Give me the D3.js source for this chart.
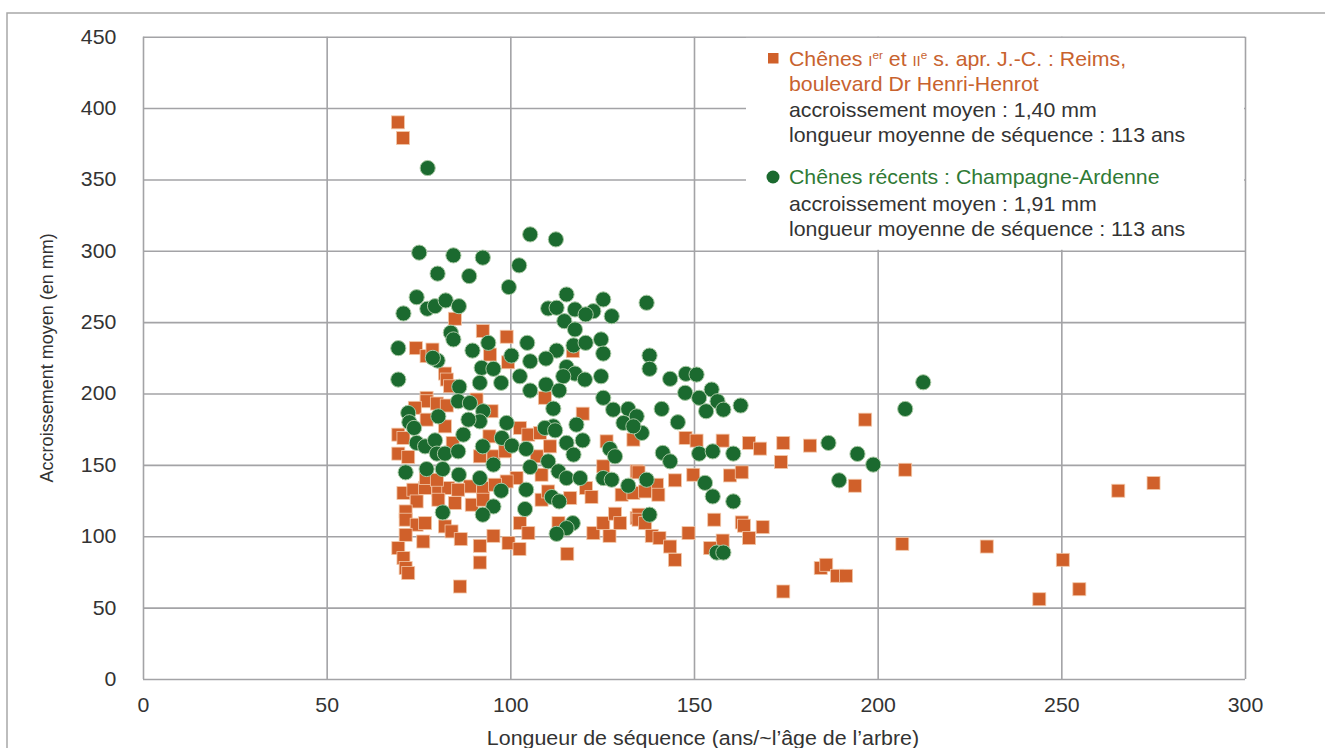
<!DOCTYPE html>
<html lang="fr">
<head>
<meta charset="utf-8">
<script src="https://cdn.jsdelivr.net/npm/d3@7"></script>
<style>
  html, body { margin: 0; padding: 0; background: #fff; }
  svg { display: block; font-family: "Liberation Sans", Arial, sans-serif; }
</style>
</head>
<body>
<svg id="chart" width="1325" height="748"></svg>
<script>
// ---------- data ----------
const xTicks = [0, 50, 100, 150, 200, 250, 300];
const yTicks = [0, 50, 100, 150, 200, 250, 300, 350, 400, 450];

// Chênes Ier et IIe s. apr. J.-C. (Reims) — squares
const romanLength = [69.4,70.8,84.9,74.3,77.2,78.8,82.2,82.7,83.6,77.2,
  77.2,80,82.7,74,77.2,82.2,69.5,70.9,84.3,69.5,72.2,70.9,73.6,76.8,80.4,83.1,77,80,74.5,80.4,84.9,71.5,71.5,74.5,76.8,82.2,84,71.5,76.3,69.5,70.9,71.5,72.2,86.3,
  92.5,99,94.5,99.4,117,109.4,119.7,94.9,90.8,102.6,
  104.9,94.3,108.1,110.8,95.4,98.6,91.7,107.2,101.7,108.5,99,89,92.6,95.8,85.8,89.5,92.6,108.5,110.3,116.3,120.6,122.1,130.3,133.5,125.3,134.4,133.5,126.2,102.6,104.9,95.4,86.5,91.7,91.7,99.5,102.5,115.5,122.6,127,125.3,128.5,129.9,134.4,113.1,
  147.7,150.7,157.8,165,168,174.3,173.7,134.9,144.8,149.8,159.8,163,139.9,140.3,136.7,134.9,134.9,136.7,138.5,140.6,143.5,144.8,148.5,155.5,163,163.6,168.7,157.8,154.4,165,174.3,
  196.6,181.6,207.5,193.8,265.5,275.1,206.7,229.7,250.4,254.9,244,184.5,186,188.9,191.4];
const romanGrowth = [390,379,252.4,231.8,226.2,230.8,214,209.8,205.1,197,
  194.6,193,191.6,190,181.7,177,171.2,168.9,165.4,157.9,155.6,130.3,132.6,133.8,132.6,133.8,140.8,139.6,124.4,125.6,123.3,117.4,111.6,108.1,109.2,106.9,103.4,101,96.3,91.7,84.7,77.7,74.2,64.8,
  243.8,239.8,227.3,221.9,229.7,197,185.9,187.6,195.8,175.9,
  171.2,170,172.4,163,156,159.5,156,156,140.8,143.1,138.4,134.9,133.8,136.1,132.6,122.1,125.6,125.6,131.4,126.8,133.8,127.5,129.1,130.3,149,145.5,167.7,166.5,109.2,102.2,100.3,98,93.3,81.6,95.2,91,87.7,102.2,100.3,109.2,115.8,109.2,112.8,109.2,
  168.9,167,167,165.4,161.4,165.4,152,144.8,139.2,143.1,142.6,144.8,136.1,129.1,131.4,115.1,111.6,109.2,100.3,98.7,92.8,83.5,102.2,111.6,109.7,107.4,106.4,97,91.7,98.7,61.3,
  181.7,163.5,146.6,135.4,131.9,137.3,94.7,92.8,83.5,62.9,55.9,77.7,80,72.3,72.3];

// Chênes récents (Champagne-Ardenne) — circles
const recentLength = [77.5,75.2,84.5,80.2,74.5,77.4,79.5,82.4,86,70.9,83.8,84.5,69.5,80.2,78.9,69.5,86.1,
  72.2,72.5,73.8,80.4,85.8,74.5,76.8,79.5,80,82.2,85.8,71.5,77.2,81.6,86,81.6,
  105.4,112.4,92.5,102.4,88.8,99.6,115.3,125.3,110.3,112.6,117.6,122.6,120.5,127.6,114.7,117.6,94,89.7,104.6,100.3,112.6,117.2,120.5,124.7,125.3,105.4,109.7,92.2,95.4,115.3,117.6,120.3,124.7,114.4,102.6,97.5,91.7,109.7,105.4,113.3,125.3,89,92.6,111.7,128,132.1,91.7,99,111.7,118,130.8,134.4,
  88.6,87.2,97.7,100.4,104.3,92.5,109.4,112.2,115.3,119.7,110.3,117.2,127.1,128.5,95.4,105.4,113.1,115.3,119,91.7,125.3,132.1,127.6,104.3,97.5,111.3,113.3,104,95.4,92.5,117,115.3,112.6,
  137.1,137.9,137.9,143.5,147.8,150.7,147.6,151.4,154.8,156.4,158,153.3,162.7,141.2,135.8,133.5,145.6,141.5,143.5,151.4,155.1,160.7,137.1,153,155.1,160.7,137.9,156.2,158,
  212.4,207.5,186.6,194.5,198.8,189.5];
const recentGrowth = [358,298.7,296.8,284,267.5,259.4,261.2,265.2,261.2,256.1,242.6,237.9,231.8,223.1,225,209.8,204.7,
  186.4,179.9,175.9,184,194.6,165.4,163,167.2,157.9,157.9,159.5,144.8,147.1,147.1,143.1,116.7,
  311.5,308,295.2,289.8,282.3,274.6,269.4,265.9,259.6,260.1,258.9,257.7,255.4,254.2,250.7,244.9,235.5,230.1,235.5,226.6,230.1,233.7,235.5,237.9,228,222.6,224.5,218,217.3,218.6,214,209.8,212.1,212.1,212.1,207.5,207.5,206.3,202.1,202.1,197,193.4,187.6,189.4,188.7,189.2,180.5,179.4,177,178.2,179.4,184,
  181.7,171.2,168.9,163.5,161.2,163,175.9,174.2,165.4,167.2,152.5,157.2,161.2,156,150.2,148.5,145.5,140.8,140.8,140.8,140.8,135.4,139.6,132.6,131.9,127.5,124.4,119.1,120.9,115.1,109.2,105.7,101.7,
  263.6,226.6,217.3,210.3,213.8,213.3,200.5,197,202.8,194.6,188.7,187.6,191.6,189.2,172.4,177,179.9,158.4,152.5,157.9,159.5,157.9,139.6,137.4,127.9,124.4,115.1,88.6,88.6,
  207.9,189.2,165.4,157.7,150.2,139.2];

const legendRoman = ["accroissement moyen : 1,40 mm", "longueur moyenne de séquence : 113 ans"];
const legendRecent = ["accroissement moyen : 1,91 mm", "longueur moyenne de séquence : 113 ans"];

// ---------- layout ----------
const colSquare = "#d0602a", colCircle = "#1b6a2f";
const textCol = "#333333", gridCol = "#a3a3a6";
const plotL = 143, plotR = 1245, plotT = 36.7, plotB = 679;
const stretch = 1.065; // reference text is slightly wider than tall

const svg = d3.select("#chart");
const x = d3.scaleLinear().domain([0, 300]).range([plotL, plotR]);
const y = d3.scaleLinear().domain([0, 450]).range([plotB, plotT]);

// outer frame
svg.append("path").attr("d", `M7,748 L7,13 L1325,13`)
  .attr("fill", "none").attr("stroke", "#a8a8a8").attr("stroke-width", 1.5);

// y grid + labels
const gy = svg.append("g").attr("transform", `translate(${plotL},0)`)
  .call(d3.axisLeft(y).tickValues(yTicks).tickSize(-(plotR - plotL)).tickPadding(25));
// x grid + labels
const gx = svg.append("g").attr("transform", `translate(0,${plotB})`)
  .call(d3.axisBottom(x).tickValues(xTicks).tickSize(-(plotB - plotT)).tickPadding(19));
[gx, gy].forEach(g => {
  g.select(".domain").remove();
  g.selectAll(".tick line").attr("stroke", gridCol).attr("stroke-width", 1.6);
  g.selectAll(".tick text").attr("fill", textCol).style("font-size", "20px")
    .style("font-family", '"Liberation Sans", Arial, sans-serif')
    .attr("transform", `scale(${stretch},1)`);
});

// legend background covers grid in top-right corner
svg.append("rect").attr("x", 746).attr("y", plotT + 1.2)
  .attr("width", plotR - 746 - 1).attr("height", y(300) - plotT - 2.2).attr("fill", "#fff");

// axis titles
svg.append("g").attr("transform", `translate(703,745) scale(${stretch + 0.005},1)`)
  .append("text").attr("text-anchor", "middle")
  .attr("fill", textCol).style("font-size", "20px")
  .text("Longueur de séquence (ans/~l’âge de l’arbre)");
svg.append("text").attr("transform", `translate(53,${(plotT + plotB) / 2}) rotate(-90)`)
  .attr("text-anchor", "middle").attr("fill", textCol).style("font-size", "18px")
  .text("Accroissement moyen (en mm)");

// data marks: squares first, circles on top
const roman = romanLength.map((v, i) => ({ x: v, y: romanGrowth[i] }));
const recent = recentLength.map((v, i) => ({ x: v, y: recentGrowth[i] }));
const sq = 13;
svg.append("g").selectAll("rect").data(roman).join("rect")
  .attr("x", d => x(d.x) - sq / 2).attr("y", d => y(d.y) - sq / 2)
  .attr("width", sq).attr("height", sq)
  .attr("fill", colSquare).attr("stroke", "#f2c7a8").attr("stroke-width", 0.8);
svg.append("g").selectAll("circle").data(recent).join("circle")
  .attr("cx", d => x(d.x)).attr("cy", d => y(d.y)).attr("r", 7.6)
  .attr("fill", colCircle).attr("stroke", "#a9c9a4").attr("stroke-width", 1);

// legend
const lgx = 789;
const lgOuter = svg.append("g");
lgOuter.append("rect").attr("x", 768).attr("y", 53).attr("width", 10.5).attr("height", 10.5).attr("fill", colSquare);
lgOuter.append("circle").attr("cx", 773).attr("cy", 177).attr("r", 6.5).attr("fill", colCircle);
const lg = lgOuter.append("g").style("font-size", "20px")
  .attr("transform", `translate(${lgx},0) scale(${stretch},1) translate(${-lgx},0)`);
const t1 = lg.append("text").attr("x", lgx).attr("y", 66).attr("fill", "#c8622e");
t1.append("tspan").text("Chênes ");
t1.append("tspan").style("font-size", "14px").text("I");
t1.append("tspan").style("font-size", "11px").attr("dy", -7).text("er");
t1.append("tspan").attr("dy", 7).text(" et ");
t1.append("tspan").style("font-size", "14px").text("II");
t1.append("tspan").style("font-size", "11px").attr("dy", -7).text("e");
t1.append("tspan").attr("dy", 7).text(" s. apr. J.-C. : Reims,");
lg.append("text").attr("x", lgx).attr("y", 91).attr("fill", "#c8622e").text("boulevard Dr Henri-Henrot");
legendRoman.forEach((s, i) => lg.append("text").attr("x", lgx).attr("y", 117 + 25 * i).attr("fill", textCol).text(s));

lg.append("text").attr("x", lgx).attr("y", 184).attr("fill", "#2f7a35").text("Chênes récents : Champagne-Ardenne");
legendRecent.forEach((s, i) => lg.append("text").attr("x", lgx).attr("y", 211 + 25 * i).attr("fill", textCol).text(s));
</script>
</body>
</html>
